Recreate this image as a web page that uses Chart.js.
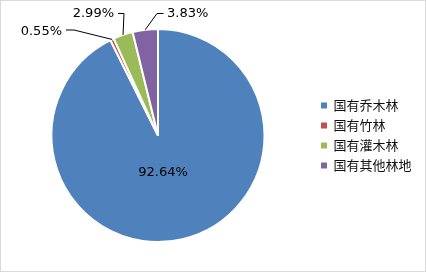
<!DOCTYPE html>
<html>
<head>
<meta charset="utf-8">
<script src="https://cdn.jsdelivr.net/npm/chart.js@4/dist/chart.umd.min.js"></script>
<style>
  html, body { margin: 0; padding: 0; background: #fff; }
  #wrap { width: 426px; height: 272px; position: relative; }
</style>
</head>
<body>
<div id="wrap"><canvas id="myChart" width="426" height="272"></canvas></div>
<script>
'use strict';
// data
let categories = ['国有乔木林', '国有竹林', '国有灌木林', '国有其他林地'];
let shares = [92.64, 0.55, 2.99, 3.83];
let sliceColors = ['#4F81BD', '#C0504D', '#9BBB59', '#8064A2'];

// where the percent labels go, relative to the pie centre
let labelLayout = [
    { inside: true, dx: 5, dy: 37 },
    { elbow: [-84, -105.5], end: [-92, -105.5], align: 'right', tdy: 1.5 },
    { elbow: [-34, -122], end: [-40, -122], align: 'right', tdy: 0 },
    { elbow: [-1, -122], end: [5.5, -122], align: 'left', tdy: 0 }
];

let framePlugin = {
    id: 'frame',
    beforeDraw(chart) {
        let ctx = chart.ctx;
        ctx.save();
        ctx.fillStyle = '#fff';
        ctx.fillRect(0, 0, chart.width, chart.height);
        ctx.restore();
    },
    afterDraw(chart) {
        let ctx = chart.ctx;
        ctx.save();
        ctx.strokeStyle = '#d9d9d9';
        ctx.lineWidth = 1;
        ctx.strokeRect(0.5, 0.5, chart.width - 1, chart.height - 1);
        ctx.restore();
    }
};

let pctLabels = {
    id: 'pctLabels',
    afterDatasetsDraw(chart) {
        let ctx = chart.ctx;
        let meta = chart.getDatasetMeta(0);
        ctx.save();
        ctx.font = '13px "DejaVu Sans"';
        ctx.fillStyle = '#000';
        ctx.strokeStyle = '#000';
        ctx.lineWidth = 1;
        ctx.textBaseline = 'middle';
        meta.data.forEach(function (arc, i) {
            let p = arc.getProps(['x', 'y', 'startAngle', 'endAngle', 'outerRadius'], true);
            let text = shares[i].toFixed(2) + '%';
            let lay = labelLayout[i];
            if (lay.inside) {
                ctx.textAlign = 'center';
                ctx.fillText(text, p.x + lay.dx, p.y + lay.dy);
                return;
            }
            let mid = (p.startAngle + p.endAngle) / 2;
            let r = p.outerRadius;
            let sx = p.x + Math.cos(mid) * r;
            let sy = p.y + Math.sin(mid) * r;
            let ex = p.x + lay.elbow[0], ey = p.y + lay.elbow[1];
            let tx = p.x + lay.end[0], ty = p.y + lay.end[1];
            ctx.beginPath();
            ctx.moveTo(sx, sy);
            ctx.lineTo(ex, ey);
            ctx.lineTo(tx, ty);
            ctx.stroke();
            ctx.textAlign = lay.align;
            let gap = lay.align === 'right' ? -4 : 3.5;
            ctx.fillText(text, tx + gap, ty + lay.tdy);
        });
        ctx.restore();
    }
};

let ctx = document.getElementById('myChart').getContext('2d');
let myChart = new Chart(ctx, {
    type: 'pie',
    data: {
        labels: categories,
        datasets: [{
            data: shares,
            backgroundColor: sliceColors,
            borderColor: '#fff',
            borderWidth: 2
        }]
    },
    options: {
        responsive: false,
        animation: false,
        layout: { padding: { left: 2, right: 4.5, top: 28, bottom: 29 } },
        plugins: {
            tooltip: { enabled: false },
            legend: {
                position: 'right',
                labels: {
                    boxWidth: 6,
                    boxHeight: 6,
                    padding: 7,
                    color: '#111',
                    font: { family: '"Noto Sans CJK SC"', size: 13 },
                    generateLabels(chart) {
                        let items = Chart.overrides.pie.plugins.legend.labels.generateLabels(chart);
                        items.forEach(function (it) { it.lineWidth = 0; it.strokeStyle = it.fillStyle; });
                        return items;
                    }
                }
            }
        }
    },
    plugins: [framePlugin, pctLabels]
});
</script>
</body>
</html>
